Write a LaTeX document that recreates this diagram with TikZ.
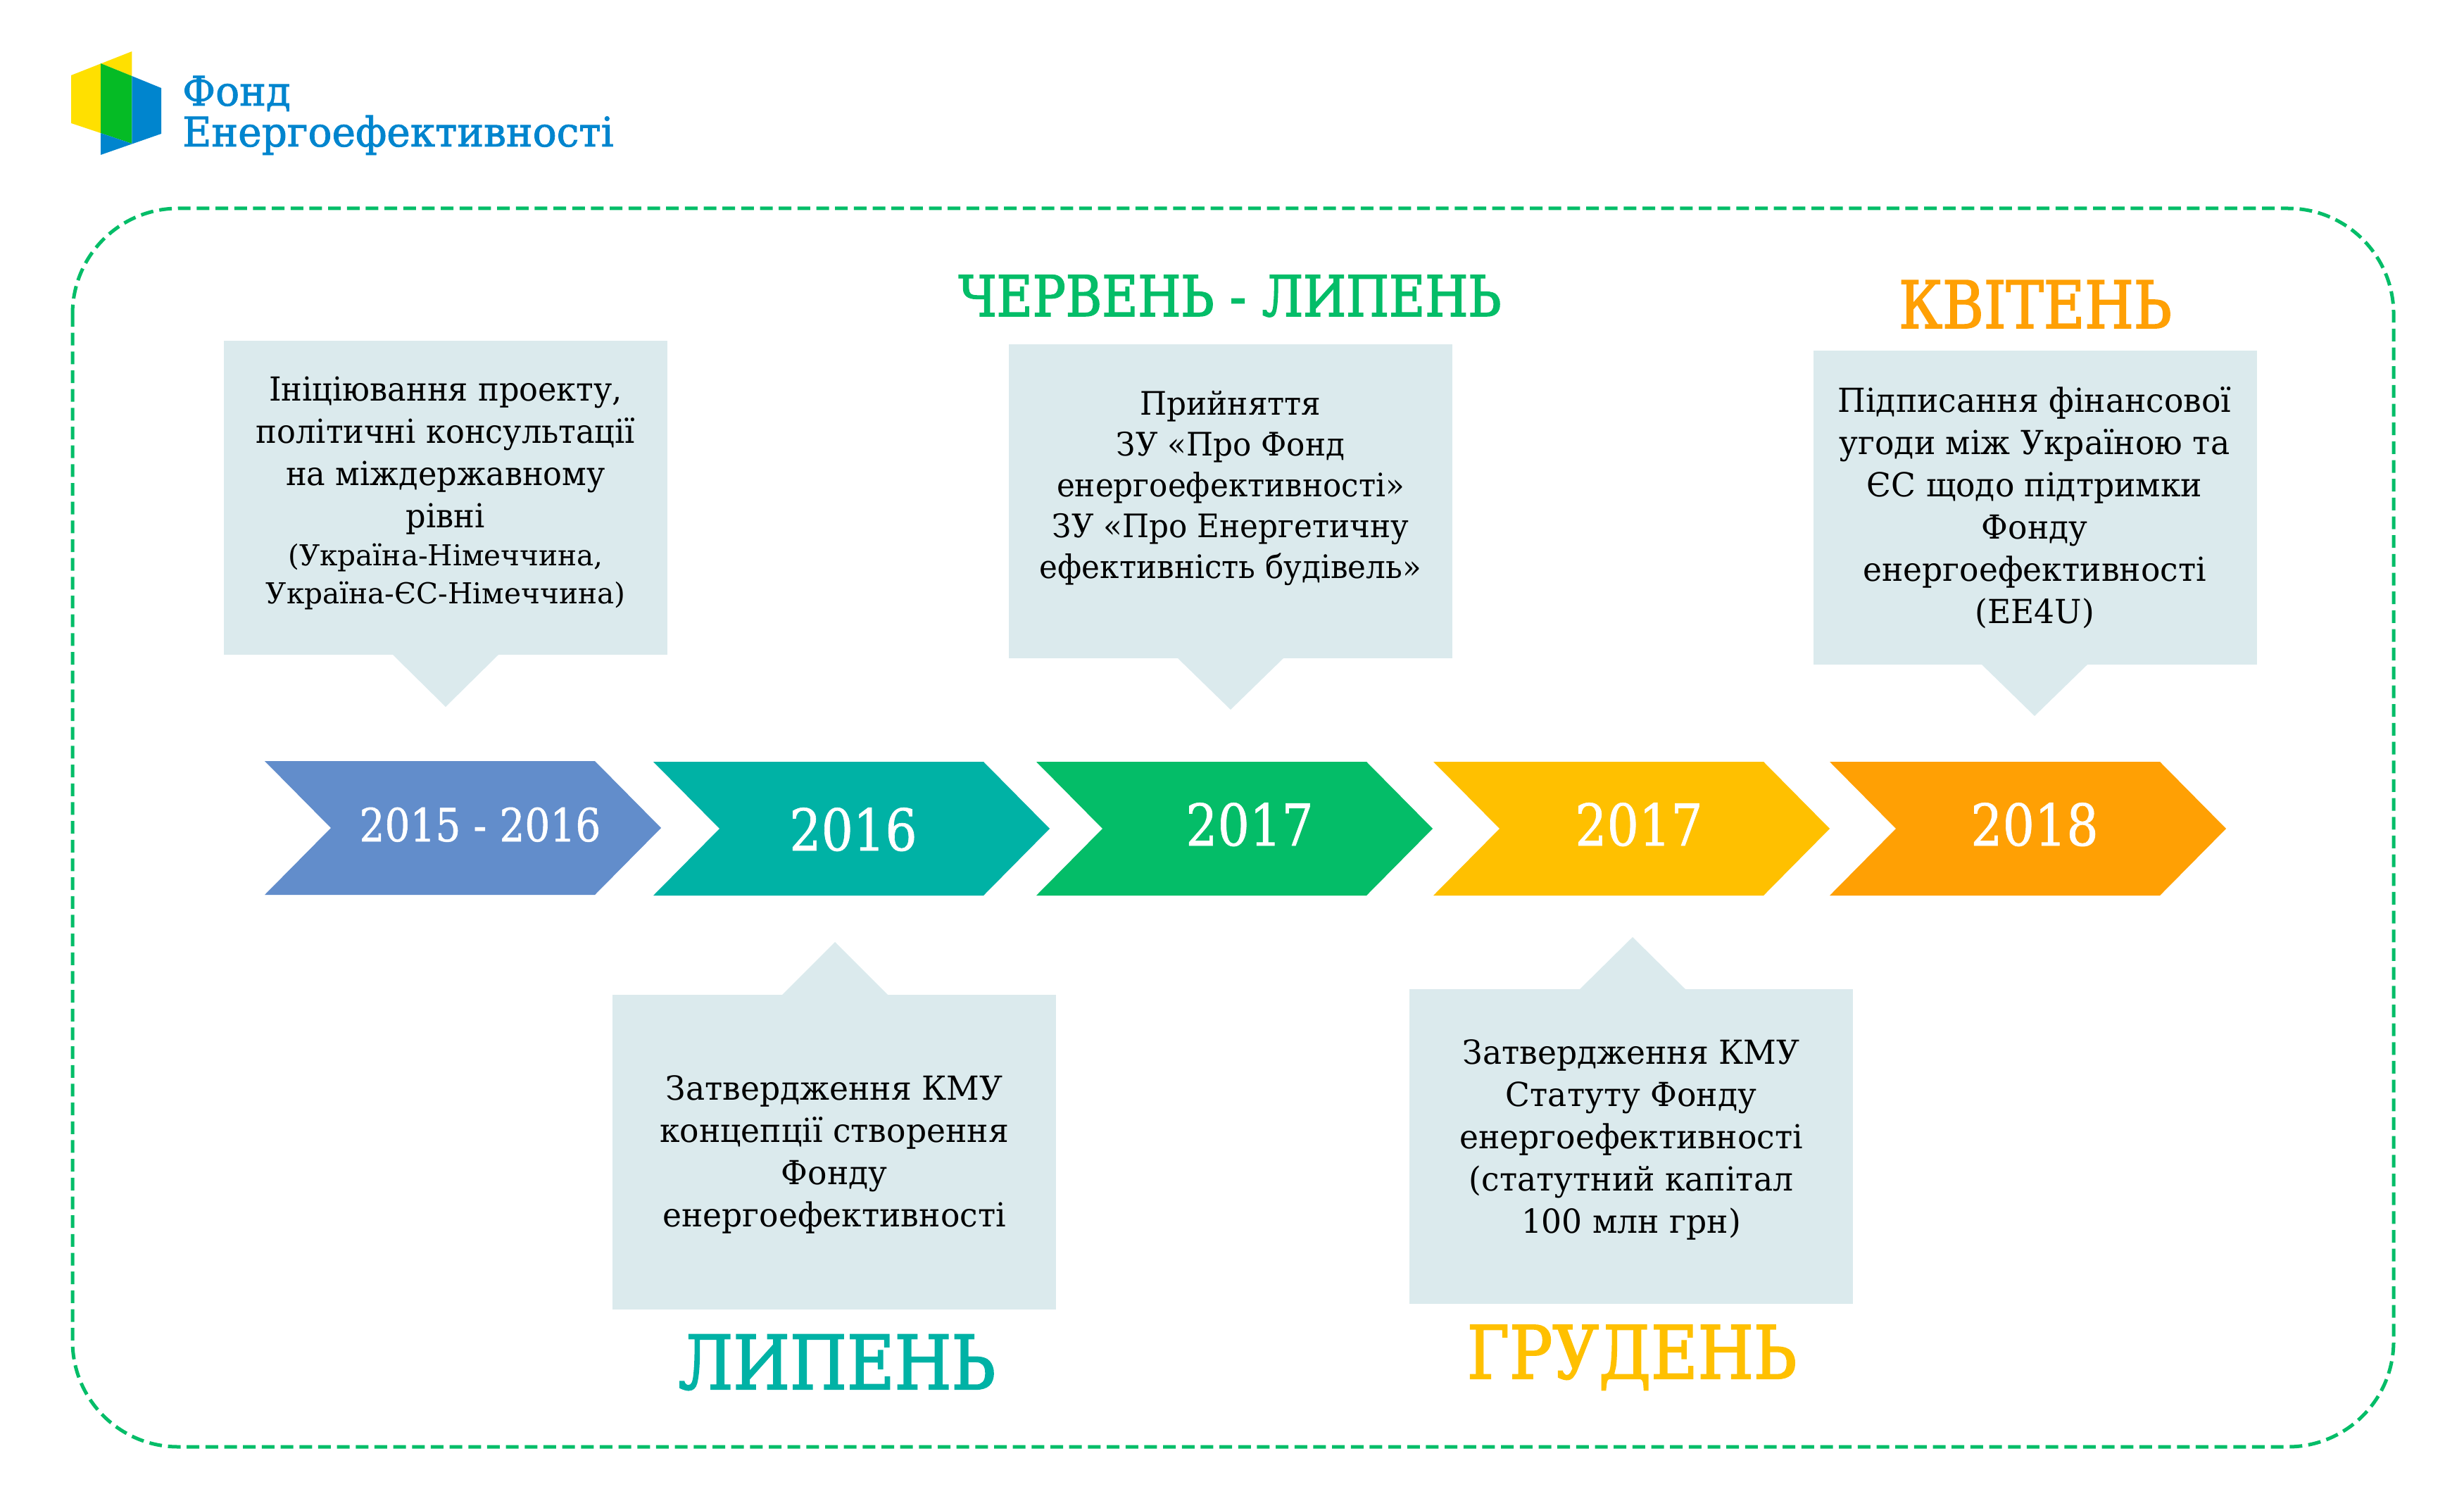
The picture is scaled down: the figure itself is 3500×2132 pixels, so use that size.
\documentclass[tikz,border=0pt]{standalone}
\usepackage{fontspec}
\setmainfont{DejaVu Serif}
\newfontfamily\bodyf[FakeStretch=0.95]{DejaVu Serif}
\newfontfamily\bodyg[FakeStretch=0.97]{DejaVu Serif}
\newfontfamily\smallf[FakeStretch=0.99]{DejaVu Serif}
\newfontfamily\headf[FakeStretch=0.86,FakeBold=2]{DejaVu Serif}
\newfontfamily\headg[FakeStretch=0.875,FakeBold=2]{DejaVu Serif}
\newfontfamily\yearf[FakeStretch=0.87,FakeBold=0.8]{DejaVu Serif}
\newfontfamily\logof[FakeStretch=0.975,FakeBold=1.5]{DejaVu Serif}
\definecolor{cblue}{HTML}{628DCB}
\definecolor{cteal}{HTML}{00B2A5}
\definecolor{cgreen}{HTML}{04BD68}
\definecolor{cyellow}{HTML}{FFC000}
\definecolor{corange}{HTML}{FFA004}
\definecolor{boxc}{HTML}{DBEAED}
\definecolor{lblue}{HTML}{0085CE}
\definecolor{lgreen}{HTML}{05BB25}
\definecolor{lyellow}{HTML}{FFE000}
\newcommand{\chevshape}[3]{\fill[#3] (#1,#2) -- ++(469,0) -- ++(94,95) -- ++(-94,95) -- ++(-469,0) -- ++(94,-95) -- cycle;}
\newcommand{\boxdown}[5]{\fill[boxc] (#1,#2) rectangle (#1+630,#3); \fill[boxc] (#4-75,#3) -- (#4,#5) -- (#4+75,#3) -- cycle;}
\newcommand{\boxup}[5]{\fill[boxc] (#1,#2) rectangle (#1+630,#3); \fill[boxc] (#4-75,#2) -- (#4,#5) -- (#4+75,#2) -- cycle;}
\tikzset{
 bodytxt/.style={align=center,inner sep=0pt,text=black,font=\bodyf\fontsize{47}{60}\selectfont},
 bodytxtg/.style={align=center,inner sep=0pt,text=black,font=\bodyg\fontsize{47}{60}\selectfont},
 smalltxt/.style={align=center,inner sep=0pt,text=black,font=\smallf\fontsize{41}{54}\selectfont},
 yeartxt/.style={inner sep=0pt,anchor=base,text=white,font=\yearf\fontsize{82}{82}\selectfont},
 headtxt/.style={inner sep=0pt,anchor=base,font=\headf\fontsize{#1}{#1}\selectfont},
 headtxtg/.style={inner sep=0pt,anchor=base,font=\headg\fontsize{#1}{#1}\selectfont},
 logotxt/.style={inner sep=0pt,anchor=base west,text=lblue,font=\logof\fontsize{58}{58}\selectfont}
}
\begin{document}
\begin{tikzpicture}[x=1pt,y=-1pt]
\useasboundingbox (0,0) rectangle (3500,2132);
% logo
\fill[lyellow] (101,107) -- (187.4,73) -- (187.4,108) -- (143,90) -- (143,189) -- (101,175) -- cycle;
\fill[lgreen] (143,90) -- (187.4,108) -- (187.4,204) -- (143,189) -- cycle;
\fill[lblue] (187.4,108) -- (229,125) -- (229,190) -- (143,220) -- (143,189) -- (187.4,204) -- cycle;
\node[logotxt] (logoa) at (259,150) {Фонд};
\node[logotxt] (logob) at (259,208) {Енергоефективності};
% frame
\draw[cgreen,line width=5pt,dash pattern=on 18pt off 8.67pt,rounded corners=150pt] (103,296) rectangle (3400,2055);
% chevrons
\chevshape{376}{1081}{cblue}
\chevshape{928}{1082}{cteal}
\chevshape{1472}{1082}{cgreen}
\chevshape{2036}{1082}{cyellow}
\chevshape{2599}{1082}{corange}
\node[yeartxt,font=\yearf\fontsize{65}{65}\selectfont] (y1) at (682,1195) {2015 - 2016};
\node[yeartxt] (y2) at (1212,1208) {2016};
\node[yeartxt] (y3) at (1775,1201) {2017};
\node[yeartxt] (y4) at (2328,1201) {2017};
\node[yeartxt] (y5) at (2890,1201) {2018};
% boxes
\boxdown{318}{484}{930}{633}{1004}
\boxup{870}{1413}{1860}{1186}{1338}
\boxdown{1433}{489}{935}{1748}{1008}
\boxup{2002}{1405}{1852}{2319}{1331}
\boxdown{2576}{498}{944}{2890}{1017}
\node[bodytxt] (t1) at (633,647) {Ініціювання проекту,\\політичні консультації\\на міждержавному\\рівні};
\node[smalltxt] (t1b) at (633,819) {(Україна-Німеччина,\\Україна-ЄС-Німеччина)};
\node[bodytxtg] (t2) at (1185,1640) {Затвердження КМУ\\концепції створення\\Фонду\\енергоефективності};
\node[bodytxt,font=\bodyf\fontsize{46}{58}\selectfont] (t3) at (1748,693) {Прийняття\\ЗУ «Про Фонд\\енергоефективності»\\ЗУ «Про Енергетичну\\ефективність будівель»};
\node[bodytxtg] (t4) at (2317,1619) {Затвердження КМУ\\Статуту Фонду\\енергоефективності\\(статутний капітал\\100 млн грн)};
\node[bodytxtg] (t5) at (2890,721) {Підписання фінансової\\угоди між Україною та\\ЄС щодо підтримки\\Фонду\\енергоефективності\\(EE4U)};
% headings
\node[headtxtg=80,text=cgreen] (h3) at (1747,449) {ЧЕРВЕНЬ - ЛИПЕНЬ};
\node[headtxt=93,text=corange] (h5) at (2891,466) {КВІТЕНЬ};
\node[headtxtg=106,text=cteal] (h2) at (1189,1973) {ЛИПЕНЬ};
\node[headtxtg=104,text=cyellow] (h4) at (2318,1958) {ГРУДЕНЬ};
\end{tikzpicture}
\end{document}
